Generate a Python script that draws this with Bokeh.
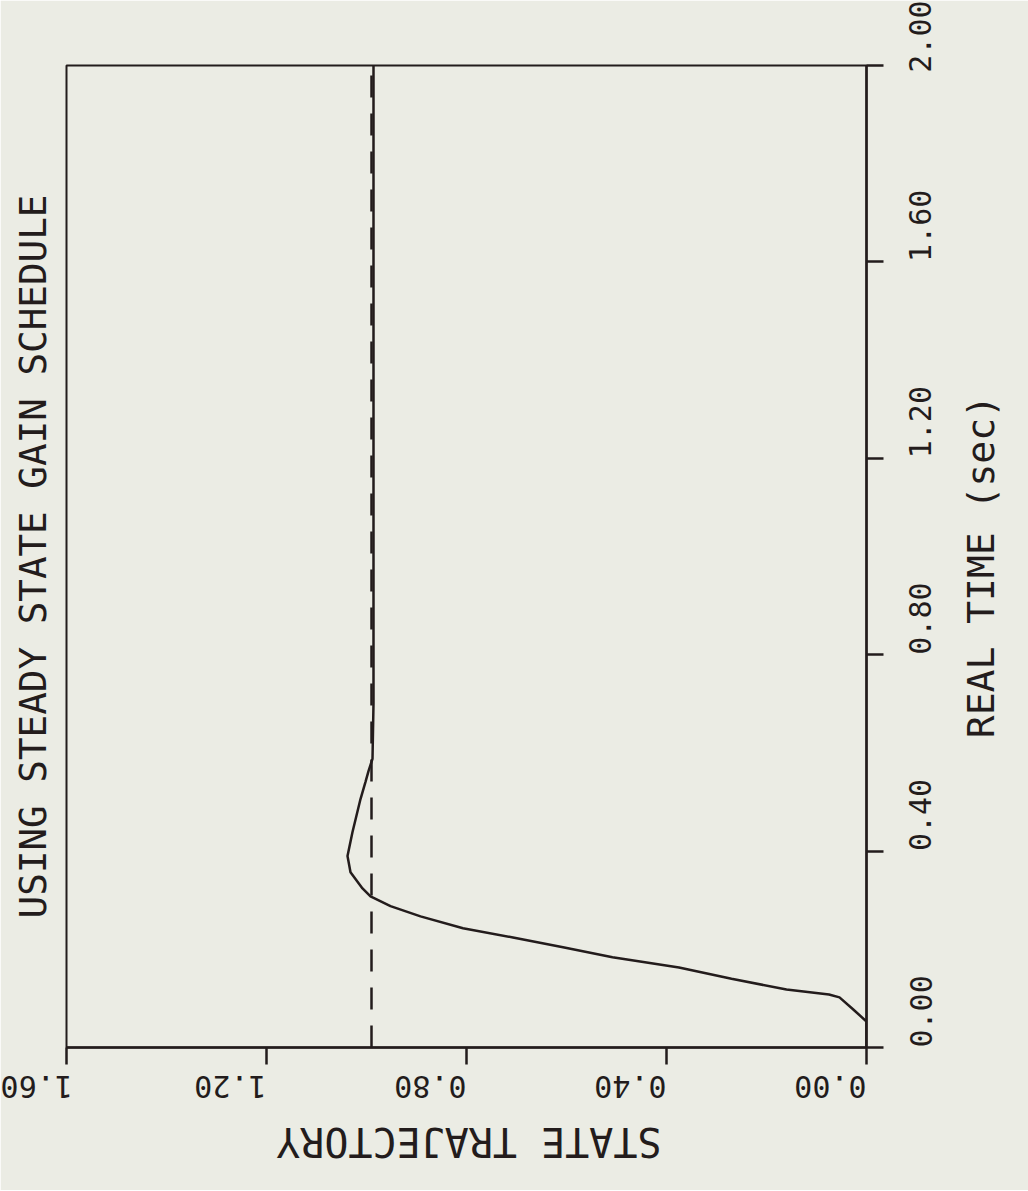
import math
from bokeh.plotting import figure
from bokeh.models import Range1d, FixedTicker, PrintfTickFormatter, Title, LinearAxis
from bokeh.embed import file_html
from bokeh.resources import INLINE

# ---- data ----
time_sec = [0.0, 0.053, 0.078, 0.102, 0.108, 0.118, 0.140, 0.163, 0.184, 0.204,
            0.224, 0.243, 0.267, 0.288, 0.308, 0.324, 0.357, 0.390, 0.439, 0.506,
            0.541, 0.563, 0.588, 0.700, 1.000, 1.400, 1.800, 2.000]
state_traj = [0.0, 0.0, 0.027, 0.054, 0.075, 0.160, 0.270, 0.375, 0.508, 0.607,
              0.707, 0.807, 0.892, 0.952, 0.992, 1.008, 1.032, 1.038, 1.028, 1.012,
              1.002, 0.996, 0.988, 0.986, 0.986, 0.986, 0.986, 0.986]
ref_time = [0.0, 2.0]
ref_state = [0.99, 0.99]

state_ticks = [0.0, 0.4, 0.8, 1.2, 1.6]
time_ticks = [0.0, 0.4, 0.8, 1.2, 1.6, 2.0]

title_text = "USING STEADY STATE GAIN SCHEDULE"
time_label = "REAL TIME (sec)"
state_label = "STATE TRAJECTORY"
# where each rotated axis title starts along its axis (layout, not data)
time_label_start = 0.63
state_label_start = 0.41

PAPER = "#ebece4"
INK = "#231c1c"
FONT = "DejaVu Sans Mono"

W, H = 1028, 1190
p = figure(width=W, height=H,
           x_range=Range1d(1.6, 0.0), y_range=Range1d(0.0, 2.0),
           x_axis_location="below", y_axis_location="right",
           output_backend="svg", toolbar_location=None,
           min_border_left=65, min_border_top=65,
           min_border_right=160, min_border_bottom=142)

p.background_fill_color = PAPER
p.border_fill_color = PAPER
p.outline_line_color = INK
p.outline_line_width = 2
p.grid.visible = False

# state axis (bottom)
xa = p.xaxis[0]
xa.ticker = FixedTicker(ticks=state_ticks)
xa.formatter = PrintfTickFormatter(format="%.2f")
xa.major_label_orientation = -math.pi

# time axis (right)
ya = p.yaxis[0]
ya.ticker = FixedTicker(ticks=time_ticks)
ya.formatter = PrintfTickFormatter(format="%.2f")
ya.major_label_orientation = -3 * math.pi / 2

for ax in (xa, ya):
    ax.axis_line_color = INK
    ax.axis_line_width = 2.5
    ax.major_tick_line_color = INK
    ax.major_tick_line_width = 2.5
    ax.major_tick_in = 0
    ax.major_tick_out = 17
    ax.minor_tick_line_color = None
    ax.major_label_text_font = FONT
    ax.major_label_text_font_size = "30px"
    ax.major_label_text_color = INK

xa.major_label_standoff = 22
ya.major_label_standoff = 37

# rotated axis titles, carried by outer title-only axes
ya2 = LinearAxis(ticker=FixedTicker(ticks=[time_label_start]),
                 major_label_overrides={time_label_start: time_label},
                 major_label_orientation=-3 * math.pi / 2)
xa2 = LinearAxis(ticker=FixedTicker(ticks=[state_label_start]),
                 major_label_overrides={state_label_start: state_label},
                 major_label_orientation=-math.pi)
for ax in (ya2, xa2):
    ax.axis_line_color = None
    ax.major_tick_line_color = None
    ax.minor_tick_line_color = None
    ax.major_tick_in = 0
    ax.major_tick_out = 0
    ax.major_label_text_font = FONT
    ax.major_label_text_color = INK
ya2.major_label_text_font_size = "38px"
xa2.major_label_text_font_size = "40px"
ya2.major_label_standoff = 36
xa2.major_label_standoff = 30
p.add_layout(ya2, "right")
p.add_layout(xa2, "below")

title = Title(text=title_text, align="center", vertical_align="top",
              text_font=FONT, text_font_size="37.6px", text_font_style="normal",
              text_color=INK, standoff=20)
p.add_layout(title, "left")

p.line(ref_state, ref_time, line_color=INK, line_width=2.5, line_dash="22 16")
p.line(state_traj, time_sec, line_color=INK, line_width=2.5)

open("out.html", "w").write(file_html(p, INLINE))
